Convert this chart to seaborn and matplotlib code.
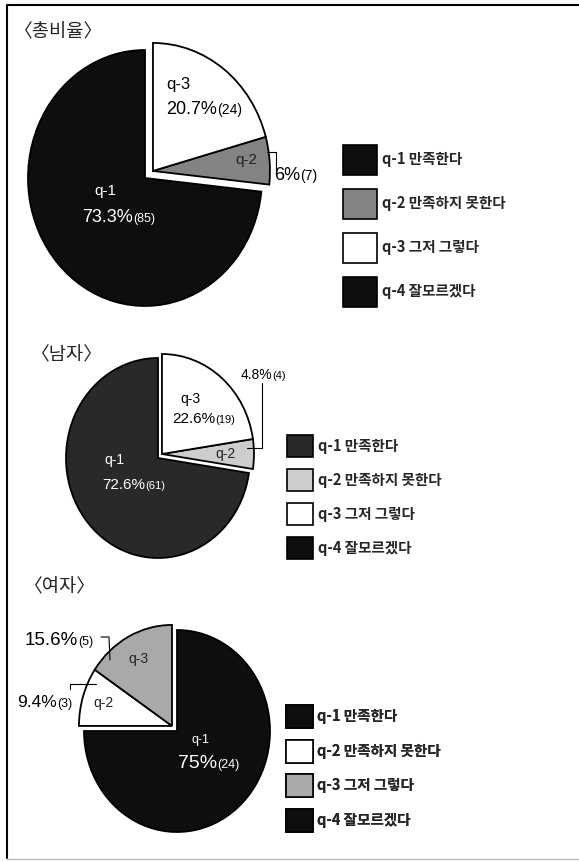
import matplotlib
matplotlib.use("Agg")
import matplotlib.pyplot as plt
import matplotlib.patches as mpatches
import seaborn as sns

W, H = 579, 861

categories = ["q-1", "q-2", "q-3", "q-4"]
category_labels = ["만족한다", "만족하지 못한다", "그저 그렇다", "잘모르겠다"]
titles = ["〈총비율〉", "〈남자〉", "〈여자〉"]

total_pct = [73.3, 6.0, 20.7, 0.0]
total_cnt = [85, 7, 24, 0]
male_pct = [72.6, 4.8, 22.6, 0.0]
male_cnt = [61, 4, 19, 0]
female_pct = [75.0, 9.4, 15.6, 0.0]
female_cnt = [24, 3, 5, 0]

total_colors = ["#0e0e0e", "#838383", "#ffffff", "#0e0e0e"]
male_colors = ["#292929", "#cdcdcd", "#ffffff", "#0e0e0e"]
female_colors = ["#0e0e0e", "#ffffff", "#a9a9a9", "#0e0e0e"]

sns.set_style("white")
plt.rcParams["font.family"] = ["Noto Sans CJK KR", "DejaVu Sans"]
num_font = ["Liberation Sans", "DejaVu Sans"]

fig = plt.figure(figsize=(W / 100, H / 100), dpi=100)


def draw_pie(values, colors, cx, cy, rx, ry, shift, counterclock):
    # pie axes sized so the pie lands at (cx, cy) px with radii rx, ry
    ax = fig.add_axes([(cx - 1.25 * rx) / W, (H - cy - 1.25 * ry) / H,
                       2.5 * rx / W, 2.5 * ry / H])
    for group, center in [([0], (0, 0)), ([1, 2], shift)]:
        wedges, _ = ax.pie(values, colors=colors, startangle=90,
                           counterclock=counterclock, center=center,
                           wedgeprops=dict(edgecolor="black", linewidth=1.3))
        for i, w in enumerate(wedges):
            w.set_visible(i in group)
    ax.set_xlim(-1.25, 1.25)
    ax.set_ylim(-1.25, 1.25)
    ax.set_aspect("auto")
    ax.axis("off")


draw_pie(total_pct, total_colors, 145, 178, 117, 128, (0.068, 0.055), True)
draw_pie(male_pct, male_colors, 158, 458, 92, 100, (0.043, 0.04), True)
draw_pie(female_pct, female_colors, 177, 731, 93, 101, (-0.054, 0.05), False)

# overlay in pixel coordinates for text, leaders, legends
ax0 = fig.add_axes([0, 0, 1, 1])
ax0.set_xlim(0, W)
ax0.set_ylim(H, 0)
ax0.axis("off")

ax0.plot([579, 7, 7], [5, 5, 858], color="black", lw=1.5)
ax0.plot([7, 579], [859, 859], color="#bbbbbb", lw=1.0)

for t, (x, y) in zip(titles, [(14, 32), (31, 355), (24, 587)]):
    ax0.text(x, y, t, fontsize=13.5, va="center", ha="left")


def pct_label(x, y, pct, cnt, big, small, color="black"):
    ax0.text(x, y, f"{pct:g}%", fontsize=big, color=color, ha="right",
             va="baseline", family=num_font)
    ax0.text(x, y, f"({cnt})", fontsize=small, color=color, ha="left",
             va="baseline", family=num_font)


def q_label(x, y, name, size, color="black"):
    ax0.text(x, y, name, fontsize=size, color=color, ha="center",
             va="center", family=num_font)


# total
q_label(178, 84, categories[2], 12)
pct_label(217, 114, total_pct[2], total_cnt[2], 13, 10)
q_label(246, 160, categories[1], 11, "#222222")
pct_label(300, 180, total_pct[1], total_cnt[1], 13, 10)
ax0.plot([267, 276, 276], [152, 152, 173], color="black", lw=0.8)
q_label(105, 191, categories[0], 11, "white")
pct_label(133, 222, total_pct[0], total_cnt[0], 13, 9, "white")

# male
q_label(190, 399, categories[2], 10)
pct_label(215, 423, male_pct[2], male_cnt[2], 11, 8)
pct_label(272, 379, male_pct[1], male_cnt[1], 10, 8)
ax0.plot([262, 262, 247], [383, 448, 448], color="black", lw=0.8)
q_label(225, 454, categories[1], 10, "#222222")
q_label(114, 460, categories[0], 10, "white")
pct_label(145, 489, male_pct[0], male_cnt[0], 11, 8, "white")

# female
pct_label(78, 645, female_pct[2], female_cnt[2], 13.5, 9)
ax0.plot([101, 109, 110], [637, 637, 660], color="black", lw=0.8)
q_label(138, 659, categories[2], 10, "#222222")
pct_label(57, 707, female_pct[1], female_cnt[1], 12.5, 9)
ax0.plot([70, 70, 96], [689, 684, 684], color="black", lw=0.8)
q_label(104, 703, categories[1], 10, "#222222")
q_label(201, 740, categories[0], 9, "white")
pct_label(217, 768, female_pct[0], female_cnt[0], 14, 9, "white")


def draw_legend(colors, x, y, fs, h_px, pitch_px, hl):
    # legend handle height = fs*(0.65*hh + 0.245) points
    px = fs * 100 / 72
    hh = (h_px / px - 0.245) / 0.65
    ls = (pitch_px - h_px) / px
    handles = [mpatches.Patch(facecolor=c, edgecolor="black", linewidth=1.2)
               for c in colors]
    labels = [f"{q} {t}" for q, t in zip(categories, category_labels)]
    leg = ax0.legend(handles, labels, loc="upper left", bbox_to_anchor=(x, y),
                     bbox_transform=ax0.transData, frameon=False,
                     prop={"size": fs, "weight": "bold"},
                     handlelength=hl, handleheight=hh, labelspacing=ls,
                     handletextpad=0.3, borderpad=0, borderaxespad=0)
    ax0.add_artist(leg)


draw_legend(total_colors, 343, 145, 10.5, 30, 44, 2.35)
draw_legend(male_colors, 287, 435, 10.5, 22, 34, 1.8)
draw_legend(female_colors, 286, 705, 10.5, 23, 34.5, 1.85)

fig.savefig("out.png", dpi=100)
